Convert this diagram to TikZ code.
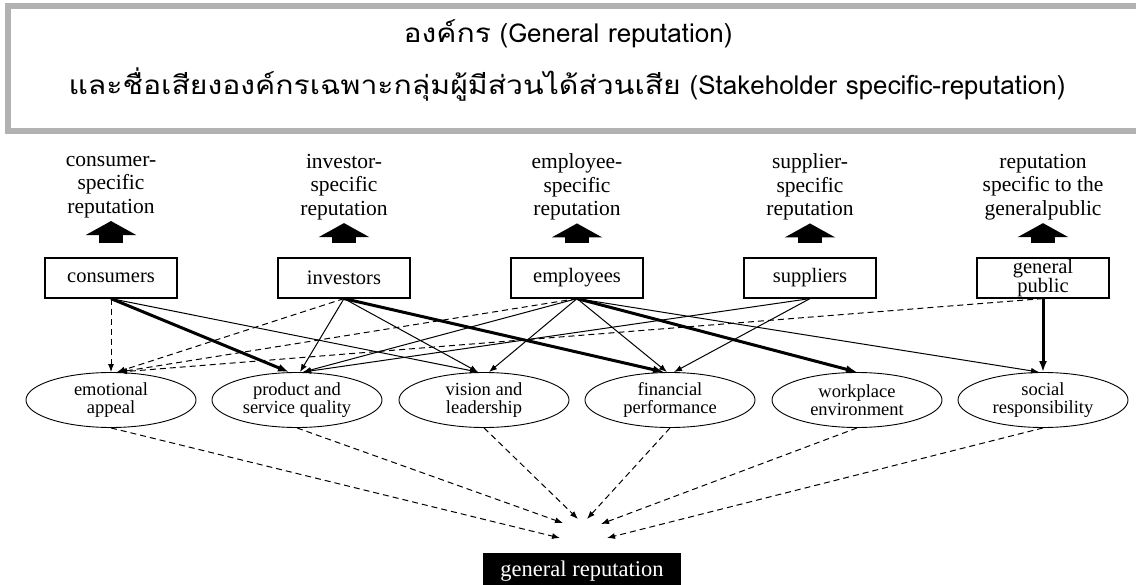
\documentclass[tikz,border=0pt]{standalone}
\usepackage{fontspec}
\setmainfont{Liberation Serif}
\newfontfamily\thaifont[Script=Thai]{Loma}
\newfontfamily\thaiwide[Script=Thai, FakeStretch=1.16]{Loma}
\usepackage{tikz}
\usetikzlibrary{arrows.meta, shapes.geometric}

\begin{document}
\begin{tikzpicture}[
  x=1pt, y=-1pt,
  title/.style={font=\thaifont\fontsize{26}{30}\selectfont},
  rep/.style={align=center, inner sep=0pt, font=\fontsize{21.5}{23.5}\selectfont},
  grp/.style={draw, line width=1.2pt, minimum width=132pt, minimum height=40pt, inner sep=1pt, align=center, font=\fontsize{20.5}{19}\selectfont},
  factor/.style={draw, ellipse, line width=0.9pt, minimum width=170pt, minimum height=55pt, inner sep=0pt, align=center, font=\fontsize{18.5}{18}\selectfont},
  uparr/.style={line width=24pt, -{Triangle[width=50pt, length=14pt]}, shorten <=14pt, shorten >=3pt},
  link/.style={-{Latex[length=8pt, width=6pt]}, line width=1pt},
  strong/.style={-{Latex[length=11pt, width=8pt]}, line width=3pt},
  weak/.style={-{Latex[length=8pt, width=6pt]}, line width=1pt, dash pattern=on 6pt off 4pt},
]
  \useasboundingbox (0,0) rectangle (1136,585);

  % Header
  \draw[black!30, line width=6pt] (1145,6) -- (8,6) -- (8,131) -- (1145,131);
  \node[title] (title1) at (568,34) {{\thaiwide องค์กร} (General reputation)};
  \node[title] (title2) at (567,85) {{\thaiwide และชื่อเสียงองค์กรเฉพาะกลุ่มผู้มีส่วนได้ส่วนเสีย} (Stakeholder specific-reputation)};

  % Stakeholder-specific reputations
  \node[rep] (consrep) at (111,187) {consumer-\\specific\\reputation};
  \node[rep] (invrep) at (344,187) {investor-\\specific\\reputation};
  \node[rep] (emprep) at (577,187) {employee-\\specific\\reputation};
  \node[rep] (suprep) at (810,187) {supplier-\\specific\\reputation};
  \node[rep] (pubrep) at (1043,187) {reputation\\specific to the\\generalpublic};

  % Stakeholder groups
  \node[grp] (cons) at (111,278) {consumers};
  \node[grp] (inv) at (344,278) {investors};
  \node[grp] (emp) at (577,278) {employees};
  \node[grp] (sup) at (810,278) {suppliers};
  \node[grp] (pub) at (1043,278) {general\\public};

  % Reputation drivers
  \node[factor] (emo) at (111,400) {emotional\\appeal};
  \node[factor] (prod) at (297,400) {product and\\service quality};
  \node[factor] (vis) at (484,400) {vision and\\leadership};
  \node[factor] (fin) at (670,400) {financial\\performance};
  \node[factor] (work) at (857,400) {workplace\\environment};
  \node[factor] (soc) at (1043,400) {social\\responsibility};

  % General reputation
  \node[fill=black, text=white, minimum width=198pt, minimum height=36pt, font=\fontsize{22.5}{22}\selectfont] (gen) at (582,571) {general reputation};
  \coordinate (in1) at (560,538);
  \coordinate (in2) at (563,523);
  \coordinate (in3) at (578,519);
  \coordinate (in4) at (587,519);
  \coordinate (in5) at (601,524);
  \coordinate (in6) at (607,538);

  % Block arrows
  \draw[uparr] (cons) -- (consrep);
  \draw[uparr] (inv) -- (invrep);
  \draw[uparr] (emp) -- (emprep);
  \draw[uparr] (sup) -- (suprep);
  \draw[uparr] (pub) -- (pubrep);

  % consumers
  \draw[weak] (cons.south) -- (emo.north);
  \draw[strong] (cons.south) -- ([xshift=-8pt]prod.north);
  \draw[link] (cons.south) -- ([xshift=-6pt]vis.north);
  % investors
  \draw[weak] (inv.south) -- ([xshift=6pt]emo.north);
  \draw[link] (inv.south) -- ([xshift=3pt]prod.north);
  \draw[link] (inv.south) -- ([xshift=-6pt]vis.north);
  \draw[strong] (inv.south) -- ([xshift=-6pt]fin.north);
  % employees
  \draw[weak] (emp.south) -- ([xshift=8pt]emo.north);
  \draw[link] (emp.south) -- ([xshift=6pt]prod.north);
  \draw[link] (emp.south) -- ([xshift=5pt]vis.north);
  \draw[link] (emp.south) -- ([xshift=-3pt]fin.north);
  \draw[strong] (emp.south) -- (work.north);
  \draw[link] (emp.south) -- ([xshift=-4pt]soc.north);
  % suppliers
  \draw[link] (sup.south) -- ([xshift=6pt]prod.north);
  \draw[link] (sup.south) -- ([xshift=4pt]fin.north);
  % general public
  \draw[weak] (pub.south) -- ([xshift=8pt]emo.north);
  \draw[strong] (pub.south) -- (soc.north);

  % Drivers to general reputation
  \draw[weak] (emo.south) -- (in1);
  \draw[weak] (prod.south) -- (in2);
  \draw[weak] (vis.south) -- (in3);
  \draw[weak] (fin.south) -- (in4);
  \draw[weak] (work.south) -- (in5);
  \draw[weak] (soc.south) -- (in6);
\end{tikzpicture}
\end{document}
